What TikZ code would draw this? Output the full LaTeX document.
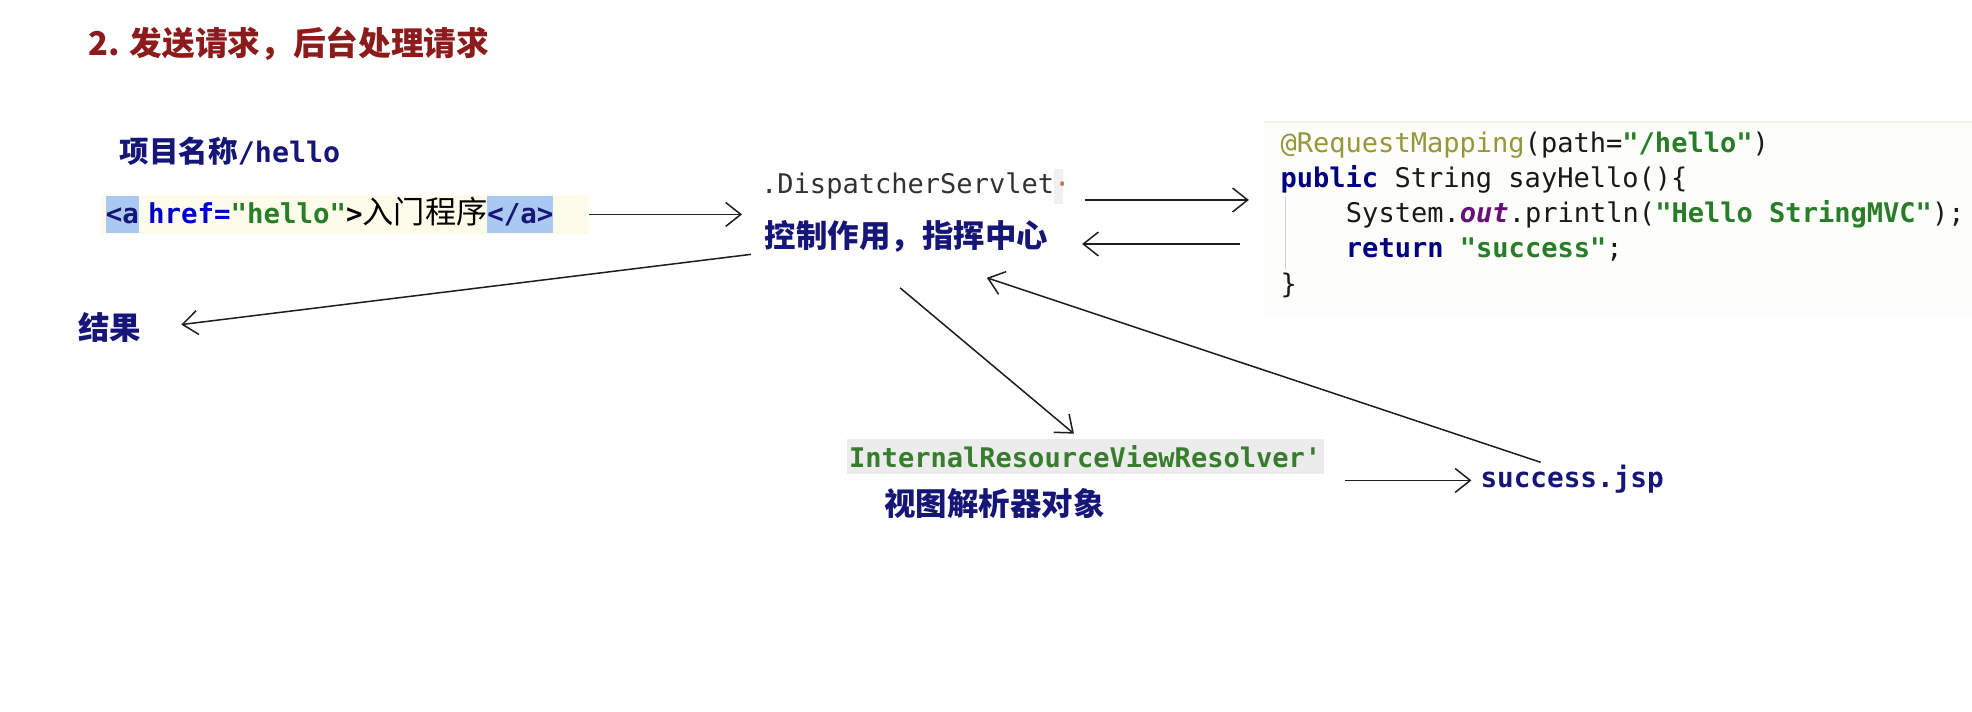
\documentclass[tikz,border=0pt]{standalone}
\usepackage{fontspec}
\setmonofont{DejaVu Sans Mono}
\newfontfamily\cjk{Noto Sans CJK SC}
\usetikzlibrary{arrows.meta,calc}

\definecolor{titlered}{RGB}{140,28,28}
\definecolor{navy}{RGB}{22,22,120}
\definecolor{bandyellow}{RGB}{253,252,235}
\definecolor{hlblue}{RGB}{170,200,240}
\definecolor{attrblue}{RGB}{0,0,200}
\definecolor{strgreen}{RGB}{40,125,40}
\definecolor{annot}{RGB}{150,150,60}
\definecolor{kwnavy}{RGB}{0,0,128}
\definecolor{fieldpurple}{RGB}{102,14,122}
\definecolor{codeblack}{RGB}{25,25,25}
\definecolor{codepale}{RGB}{253,253,250}
\definecolor{codeedge}{RGB}{248,241,226}
\definecolor{viewgray}{RGB}{236,236,236}
\definecolor{viewgreen}{RGB}{55,125,45}
\definecolor{dispgray}{RGB}{50,50,50}
\definecolor{dotred}{RGB}{190,110,60}
\definecolor{linegray}{RGB}{30,30,30}

\newcommand\hl[1]{{\setlength{\fboxsep}{0pt}\colorbox{hlblue}{\rule[-7pt]{0pt}{29pt}#1}}}

\tikzset{
  lbl/.style={inner sep=0pt, anchor=west, text=navy, font=\cjk\bfseries\fontsize{25}{30}\selectfont},
  src/.style={inner sep=0pt, anchor=base west, text=codeblack, font=\ttfamily\fontsize{21.5}{26}\selectfont},
  arr/.style={draw=linegray, line width=1.2pt, -{Straight Barb[length=12pt,width=19pt]}},
}

\begin{document}
\begin{tikzpicture}[x=1pt,y=-1pt]
    \fill[white] (0,0) rectangle (1568,566);
    \useasboundingbox (0,0) rectangle (1568,566);

    % title
    \node[lbl, text=titlered, font=\cjk\bfseries\fontsize{26}{30}\selectfont] (title) at (70,35) {2. 发送请求，后台处理请求};

    % request side
    \node[lbl, font=\cjk\bfseries\fontsize{23.5}{28}\selectfont] (url) at (95,120) {项目名称{\ttfamily\fontsize{22.5}{28}\selectfont/hello}};
    \node[anchor=west, fill=bandyellow, inner xsep=4pt, inner ysep=0pt, minimum height=31pt, text width=380pt, align=left, font=\ttfamily\bfseries\fontsize{21.8}{26}\selectfont] (ahref) at (80,170.5)
        {\noindent\hl{\textcolor{navy}{<a}} \textcolor{attrblue}{href=}\textcolor{strgreen}{"hello"}>{\cjk\mdseries\fontsize{24.8}{28}\selectfont 入门程序}\hl{\textcolor{navy}{</a>}}};
    \node[lbl] (result) at (62,260) {结果};

    % dispatcher
    \fill[viewgray!80] (838,134) rectangle (845,162);
    \node[src, anchor=west, text=dispgray] (disp) at (605,148) {.DispatcherServlet\textcolor{dotred}{·}};
    \node[lbl] (ctrl) at (608,188) {控制作用，指挥中心};

    % controller method
    \fill[codepale] (1005,97) rectangle (1568,250);
    \draw[codeedge, line width=2pt] (1005,97) -- (1568,97);
    \draw[gray!35, line width=1pt] (1022,157) -- (1022,214);
    \node[src] (m1) at (1018,121) {\textcolor{annot}{@RequestMapping}(path=\textcolor{strgreen}{\bfseries"/hello"})};
    \node[src] (m2) at (1018,149) {\textcolor{kwnavy}{\bfseries public} String sayHello()\{};
    \node[src] (m3) at (1070,177) {System.\textcolor{fieldpurple}{\bfseries\itshape out}.println(\textcolor{strgreen}{\bfseries"Hello StringMVC"});};
    \node[src] (m4) at (1070,205) {\textcolor{kwnavy}{\bfseries return} \textcolor{strgreen}{\bfseries"success"};};
    \node[src] (m5) at (1018,233) {\}};

    % view resolver
    \node[anchor=west, fill=viewgray, inner xsep=2pt, inner ysep=0pt, minimum height=28pt, text=viewgreen, font=\ttfamily\bfseries\fontsize{21.5}{26}\selectfont] (view) at (673,363) {InternalResourceViewResolver'};
    \node[lbl] (viewer) at (703,400) {视图解析器对象};
    \node[anchor=west, inner sep=0pt, text=navy, font=\ttfamily\bfseries\fontsize{22}{26}\selectfont] (jsp) at (1177,381) {success.jsp};

    % arrows
    \draw[arr, shorten >=15pt] (ahref.east) -- (ahref.east -| disp.west);
    \draw[arr, shorten <=11pt, shorten >=25pt] ($(disp.east)+(0,11)$) -- ($(disp.east -| m1.west)+(0,11)$);
    \draw[arr, shorten <=32pt, shorten >=27pt] ($(ctrl.east -| m1.west)+(0,6)$) -- ($(ctrl.east)+(0,6)$);
    \draw[arr, shorten <=11pt, shorten >=32pt] (ctrl.south west) -- ($(result.east)+(0,2)$);
    \draw[arr] ($(ctrl.south)+(-5,28)$) -- ($(view.north)+(-9,-4)$);
    \draw[arr] ($(view.east |- jsp.west)+(17,1)$) -- ($(jsp.west)+(-7,1)$);
    \draw[arr] ($(jsp.north)+(-25,-2)$) -- ($(ctrl.south)+(64,20)$);
\end{tikzpicture}
\end{document}
